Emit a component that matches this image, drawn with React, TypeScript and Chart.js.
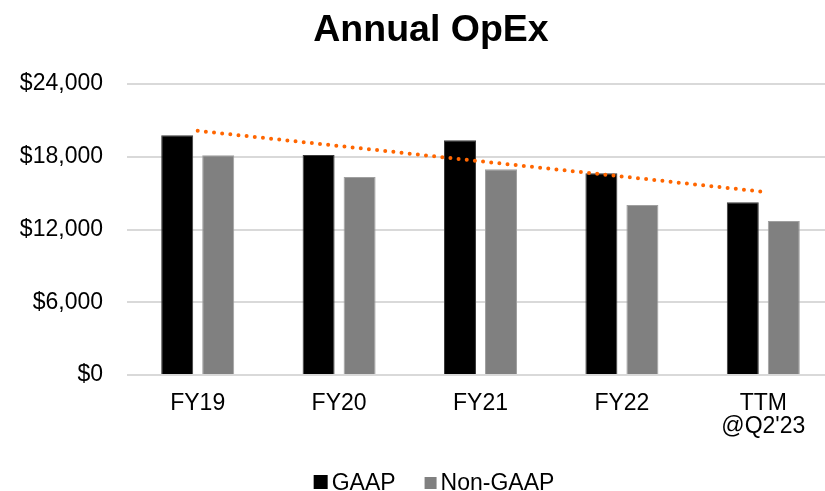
import React, { useEffect, useRef } from "react";
import { Chart, registerables } from "chart.js";

Chart.register(...registerables);

const categories: (string | string[])[] = ["FY19", "FY20", "FY21", "FY22", ["TTM", "@Q2'23"]];
const gaapValues = [19770, 18140, 19360, 16630, 14240];
const nonGaapValues = [18120, 16330, 16970, 14020, 12700];
const yTicks = [0, 6000, 12000, 18000, 24000];

// Linear (least-squares) trendline of the GAAP series, as in the source chart
function linearTrend(values: number[]): number[] {
  const n = values.length;
  const xs = values.map((_, i) => i);
  const mx = xs.reduce((a, b) => a + b, 0) / n;
  const my = values.reduce((a, b) => a + b, 0) / n;
  let num = 0;
  let den = 0;
  xs.forEach((x, i) => {
    num += (x - mx) * (values[i] - my);
    den += (x - mx) * (x - mx);
  });
  const slope = num / den;
  return xs.map((x) => my + slope * (x - mx));
}

const FONT = "'Liberation Sans', Arial, Helvetica, sans-serif";

// Shift the title box so it is centred like the source chart
const titleShift = {
  id: "titleShift",
  afterLayout(chart: any) {
    if (chart.titleBlock) chart.titleBlock.left = 28;
  },
};

// Compact legend drawn like the source (small square, tight gap to text)
const compactLegend = {
  id: "compactLegend",
  afterDraw(chart: any) {
    const ctx = chart.ctx as CanvasRenderingContext2D;
    const items = chart.data.datasets
      .filter((d: any) => d.type !== "line")
      .map((d: any, i: number) => ({
        text: d.label as string,
        fill: d.backgroundColor as string,
        size: i === 0 ? 14 : 12,
      }));
    ctx.save();
    ctx.font = `23px ${FONT}`;
    const boxGap = 4;
    const itemGap = 29;
    const widths = items.map((it: any) => it.size + boxGap + ctx.measureText(it.text).width);
    const total = widths.reduce((a: number, b: number) => a + b, 0) + itemGap * (items.length - 1);
    let x = 434 - total / 2;
    const baseline = 490;
    items.forEach((it: any, i: number) => {
      ctx.fillStyle = it.fill;
      ctx.fillRect(x, baseline - 1 - it.size, it.size, it.size);
      ctx.fillStyle = "#000";
      ctx.textBaseline = "alphabetic";
      ctx.textAlign = "left";
      ctx.fillText(it.text, x + it.size + boxGap, baseline);
      x += widths[i] + itemGap;
    });
    ctx.restore();
  },
};

export default function App() {
  const canvasRef = useRef<HTMLCanvasElement | null>(null);

  useEffect(() => {
    if (!canvasRef.current) return;
    const chart = new Chart(canvasRef.current, {
      type: "bar",
      data: {
        labels: categories,
        datasets: [
          {
            type: "line",
            label: "Linear (GAAP)",
            data: linearTrend(gaapValues),
            borderColor: "#ff6600",
            borderWidth: 4,
            borderDash: [0, 8.2],
            borderCapStyle: "round",
            pointRadius: 0,
            fill: false,
            order: 0,
          } as any,
          {
            label: "GAAP",
            data: gaapValues,
            backgroundColor: "#000000",
            borderColor: "#3a3a3a",
            borderWidth: 1,
            barPercentage: 0.78,
            categoryPercentage: 0.58,
            order: 1,
          },
          {
            label: "Non-GAAP",
            data: nonGaapValues,
            backgroundColor: "#808080",
            borderColor: "#a0a0a0",
            borderWidth: 1,
            barPercentage: 0.78,
            categoryPercentage: 0.58,
            order: 1,
          },
        ],
      },
      options: {
        animation: false,
        responsive: false,
        layout: { padding: { left: 0, right: 28, top: 0, bottom: 36 } },
        plugins: {
          tooltip: { enabled: false },
          legend: { display: false },
          title: {
            display: true,
            text: "Annual OpEx",
            color: "#000",
            font: { family: FONT, size: 37.5, weight: "bold" },
            padding: { top: 8, bottom: 31 },
          },
        },
        scales: {
          x: {
            grid: { display: false, drawTicks: false },
            border: { display: false },
            ticks: {
              color: "#000",
              font: { family: FONT, size: 23, lineHeight: 1.0 },
              padding: 17,
              maxRotation: 0,
              autoSkip: false,
            },
          },
          y: {
            min: 0,
            max: 24000,
            afterBuildTicks: (scale: any) => {
              scale.ticks = yTicks.map((v) => ({ value: v }));
            },
            afterFit: (scale: any) => {
              scale.width = 127;
            },
            grid: { color: "#d9d9d9", lineWidth: 2, drawTicks: false },
            border: { display: false },
            ticks: {
              color: "#000",
              font: { family: FONT, size: 23 },
              padding: 24,
              callback: (v: any) => "$" + Number(v).toLocaleString("en-US"),
            },
          },
        },
      },
      plugins: [titleShift, compactLegend],
    });
    return () => chart.destroy();
  }, []);

  return (
    <div
      style={{
        position: "fixed",
        left: 0,
        top: 0,
        width: 825,
        height: 491,
        overflow: "hidden",
        background: "#fff",
      }}
    >
      <canvas ref={canvasRef} width={862} height={491} style={{ display: "block" }} />
    </div>
  );
}
